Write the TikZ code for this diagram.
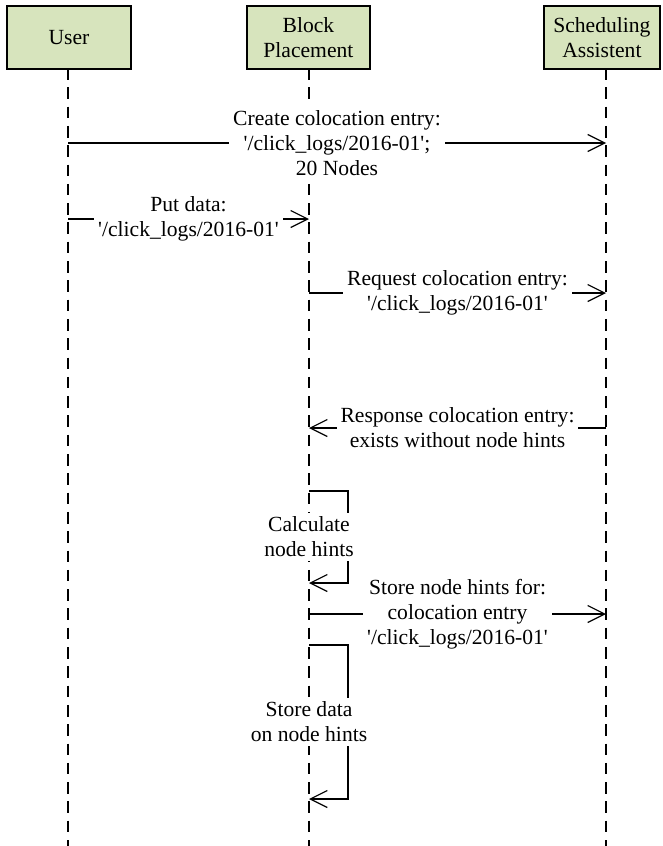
\documentclass[tikz,border=0pt]{standalone}
\usepackage{fontspec}
% keep apostrophes straight: no TeX quote mapping
\setmainfont{Liberation Serif}[Ligatures=TeXOff]
\usetikzlibrary{arrows.meta}
\definecolor{headfill}{RGB}{215,228,189}
\tikzset{
  head/.style={draw=black, line width=1.8pt, fill=headfill, align=center,
    inner sep=0pt, anchor=north west},
  lifeline/.style={line width=1.3pt, dash pattern=on 11.6pt off 7.7pt},
  msg/.style={line width=1.2pt, -{Straight Barb[length=17pt,width=17pt,line width=1.2pt]}},
  lbl/.style={fill=white, align=center, inner xsep=4pt, inner ysep=4pt},
}
\begin{document}
\begin{tikzpicture}[x=1pt, y=-1pt, font=\fontsize{21.6}{25}\selectfont]
\useasboundingbox (0,0) rectangle (662,846);

% participant headers
\node[head, minimum width=124pt, minimum height=63pt] (user) at (6,5) {User};
\node[head, minimum width=123pt, minimum height=63pt] (block) at (246,5) {Block\\Placement};
\node[head, minimum width=116pt, minimum height=63pt] (sched) at (543,5) {Scheduling\\Assistent};

% lifelines
\coordinate (uT) at (68,68);  \coordinate (uB) at (68,846);
\coordinate (bT) at (309,68); \coordinate (bB) at (309,846);
\coordinate (sT) at (606,68); \coordinate (sB) at (606,846);
\draw[lifeline] (uT) -- (uB);
\draw[lifeline] (bT) -- (bB);
\draw[lifeline] (sT) -- (sB);

% message end points
\coordinate (m1a) at (68,143);  \coordinate (m1b) at (606,143);
\coordinate (m2a) at (68,219);  \coordinate (m2b) at (309,219);
\coordinate (m3a) at (309,293); \coordinate (m3b) at (606,293);
\coordinate (m4a) at (606,428); \coordinate (m4b) at (309,428);
\coordinate (m5a) at (309,491); \coordinate (m5r1) at (348,491);
\coordinate (m5r2) at (348,583); \coordinate (m5b) at (309,583);
\coordinate (m6a) at (309,614); \coordinate (m6b) at (606,614);
\coordinate (m7a) at (309,645); \coordinate (m7r1) at (348,645);
\coordinate (m7r2) at (348,799); \coordinate (m7b) at (309,799);

% messages
\draw[msg] (m1a) -- node[lbl] (l1) {Create colocation entry:\\'/click\_logs/2016-01';\\20 Nodes} (m1b);
\draw[msg] (m2a) -- node[lbl] (l2) {Put data:\\'/click\_logs/2016-01'} (m2b);
\draw[msg] (m3a) -- node[lbl] (l3) {Request colocation entry:\\'/click\_logs/2016-01'} (m3b);
\draw[msg] (m4a) -- node[lbl] (l4) {Response colocation entry:\\exists without node hints} (m4b);
\draw[msg] (m5a) -- (m5r1) -- (m5r2) -- (m5b);
\node[lbl] (l5) at (309,537) {Calculate\\node hints};
\draw[msg] (m6a) -- node[lbl] (l6) {Store node hints for:\\colocation entry\\'/click\_logs/2016-01'} (m6b);
\draw[msg] (m7a) -- (m7r1) -- (m7r2) -- (m7b);
\node[lbl] (l7) at (309,722) {Store data\\on node hints};
\end{tikzpicture}
\end{document}
